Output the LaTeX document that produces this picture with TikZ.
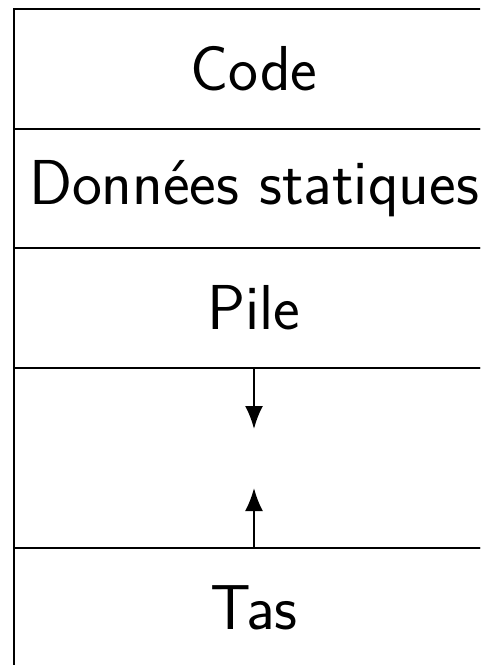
\documentclass[tikz,border=0pt]{standalone}
\usetikzlibrary{arrows.meta}
\begin{document}
\begin{tikzpicture}[x=1pt,y=-1pt,
  cell/.style={draw,line width=2pt,minimum width=480pt,inner sep=0pt,
    font=\fontsize{63.5}{76}\selectfont\sffamily},
  growarrow/.style={line width=2pt,-{Latex[length=23pt,width=18pt]}}]
\useasboundingbox (0,0) rectangle (480,665);
\clip (0,0) rectangle (480,665);
\node[cell,minimum height=119.5pt] (code) at (254,68.75) {Code};
\node[cell,minimum height=119.5pt] (data) at (254,188.25) {Données statiques};
\node[cell,minimum height=120pt] (pile) at (254,308) {Pile};
\node[cell,minimum height=180pt] (gap) at (254,458) {};
\node[cell,minimum height=120pt] (tas) at (254,608) {Tas};
\coordinate (pend) at (254,429);
\coordinate (tend) at (254,488);
\draw[growarrow] (gap.north) -- (pend);
\draw[growarrow] (tas.north) -- (tend);
\end{tikzpicture}
\end{document}
